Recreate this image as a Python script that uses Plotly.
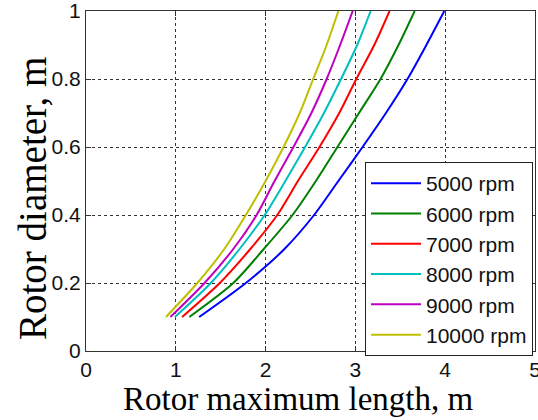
import plotly.graph_objects as go

diameter = [0.1, 0.2, 0.3, 0.4, 0.5, 0.6, 0.7, 0.8, 0.9, 1.0]
speeds = ["5000 rpm", "6000 rpm", "7000 rpm", "8000 rpm", "9000 rpm", "10000 rpm"]
len_5000 = [1.26, 1.78, 2.21, 2.54, 2.81, 3.08, 3.34, 3.58, 3.79, 3.99]
len_6000 = [1.15, 1.64, 1.98, 2.30, 2.56, 2.80, 3.04, 3.28, 3.48, 3.66]
len_7000 = [1.07, 1.49, 1.83, 2.13, 2.36, 2.60, 2.82, 3.01, 3.21, 3.38]
len_8000 = [0.99, 1.39, 1.71, 1.99, 2.22, 2.44, 2.65, 2.84, 3.02, 3.17]
len_9000 = [0.94, 1.32, 1.64, 1.90, 2.10, 2.31, 2.51, 2.68, 2.83, 2.97]
len_10000 = [0.89, 1.24, 1.54, 1.78, 2.00, 2.20, 2.38, 2.53, 2.68, 2.81]
lengths = [len_5000, len_6000, len_7000, len_8000, len_9000, len_10000]
colors = ["#0000ff", "#008000", "#ff0000", "#00bfbf", "#bf00bf", "#bfbf00"]

x_ticks = [0, 1, 2, 3, 4, 5]
y_ticks = [0, 0.2, 0.4, 0.6, 0.8, 1]
y_tick_labels = ["0", "0.2", "0.4", "0.6", "0.8", "1"]

fig = go.Figure()
for name, xs, c in zip(speeds, lengths, colors):
    fig.add_trace(go.Scatter(x=xs, y=diameter, mode="lines", name=name,
                             line=dict(color=c, width=2, shape="spline", smoothing=0.8)))

axis_common = dict(showline=True, linecolor="#333333", linewidth=1, mirror="ticks",
                   ticks="inside", ticklen=5, tickcolor="#333333",
                   showgrid=True, gridcolor="#333333", griddash="dot", gridwidth=1,
                   zeroline=False, ticklabeloverflow="allow", automargin=False,
                   tickfont=dict(family="Liberation Sans", size=21, color="#111111"))

fig.update_xaxes(range=[0, 5], tickvals=x_ticks, **axis_common)
fig.update_yaxes(range=[0, 1], tickvals=y_ticks, ticktext=y_tick_labels, **axis_common)

pw = 538 - 86 - 3
ph = 420 - 11 - 69
def px(xp):
    return (xp - 86) / pw
def py(yp):
    return (420 - 69 - yp) / ph

fig.update_layout(
    width=538, height=420,
    margin=dict(l=86, r=3, t=11, b=69, autoexpand=False),
    paper_bgcolor="white", plot_bgcolor="white",
    showlegend=True,
    legend=dict(x=px(533), y=py(162), xanchor="right", yanchor="top",
                bgcolor="white", bordercolor="#222222", borderwidth=1,
                font=dict(family="Liberation Sans", size=21, color="#111111"),
                itemwidth=50, tracegroupgap=0),
    annotations=[
        dict(text="Rotor maximum length, m", x=px(298), y=py(399), xref="paper", yref="paper",
             xanchor="center", yanchor="middle", showarrow=False,
             font=dict(family="Liberation Serif", size=33, color="black")),
        dict(text="Rotor diameter, m", x=px(32), y=py(199), xref="paper", yref="paper",
             xanchor="center", yanchor="middle", showarrow=False, textangle=-90,
             font=dict(family="Liberation Serif", size=39, color="black")),
    ],
)

fig.write_html("out.html")
